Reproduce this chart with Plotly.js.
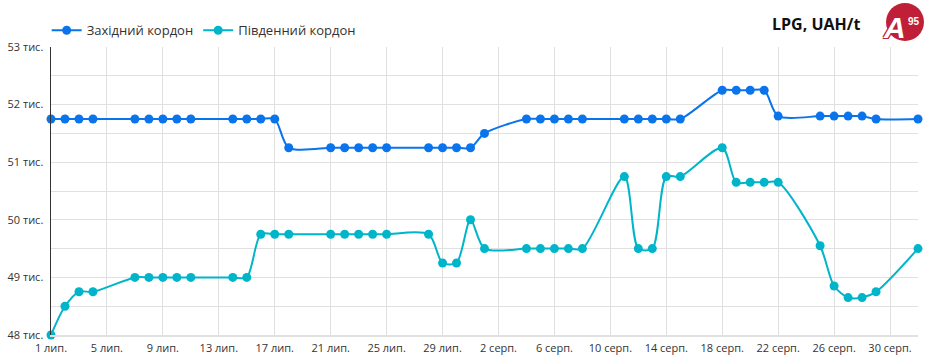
<!DOCTYPE html>
<html>
<head>
<meta charset="utf-8">
<script src="https://cdn.plot.ly/plotly-3.0.1.min.js"></script>
<style>
html,body{margin:0;padding:0;background:#fff;}
#chart{width:936px;height:362px;}
</style>
</head>
<body>
<div id="chart"></div>
<script>
const dates = [
  '2024-07-01','2024-07-02','2024-07-03','2024-07-04',
  '2024-07-07','2024-07-08','2024-07-09','2024-07-10','2024-07-11',
  '2024-07-14','2024-07-15','2024-07-16','2024-07-17','2024-07-18',
  '2024-07-21','2024-07-22','2024-07-23','2024-07-24','2024-07-25',
  '2024-07-28','2024-07-29','2024-07-30','2024-07-31','2024-08-01',
  '2024-08-04','2024-08-05','2024-08-06','2024-08-07','2024-08-08',
  '2024-08-11','2024-08-12','2024-08-13','2024-08-14','2024-08-15',
  '2024-08-18','2024-08-19','2024-08-20','2024-08-21','2024-08-22',
  '2024-08-25','2024-08-26','2024-08-27','2024-08-28','2024-08-29',
  '2024-09-01'
];
const westName = 'Західний кордон';
const westValues = [
  51750,51750,51750,51750,
  51750,51750,51750,51750,51750,
  51750,51750,51750,51750,51250,
  51250,51250,51250,51250,51250,
  51250,51250,51250,51250,51500,
  51750,51750,51750,51750,51750,
  51750,51750,51750,51750,51750,
  52250,52250,52250,52250,51800,
  51800,51800,51800,51800,51750,
  51750
];
const southName = 'Південний кордон';
const southValues = [
  48000,48500,48750,48750,
  49000,49000,49000,49000,49000,
  49000,49000,49750,49750,49750,
  49750,49750,49750,49750,49750,
  49750,49250,49250,50000,49500,
  49500,49500,49500,49500,49500,
  50750,49500,49500,50750,50750,
  51250,50650,50650,50650,50650,
  49550,48850,48650,48650,48750,
  49500
];
const xTickVals = ['2024-07-01','2024-07-05','2024-07-09','2024-07-13','2024-07-17','2024-07-21','2024-07-25','2024-07-29',
  '2024-08-02','2024-08-06','2024-08-10','2024-08-14','2024-08-18','2024-08-22','2024-08-26','2024-08-30'];
const xTickText = ['1 лип.','5 лип.','9 лип.','13 лип.','17 лип.','21 лип.','25 лип.','29 лип.',
  '2 серп.','6 серп.','10 серп.','14 серп.','18 серп.','22 серп.','26 серп.','30 серп.'];
const yTickVals = [48000,49000,50000,51000,52000,53000];
const yTickText = ['48 тис.','49 тис.','50 тис.','51 тис.','52 тис.','53 тис.'];
const chartTitle = 'LPG, UAH/t';

const westColor = '#0a74ec';
const southColor = '#00b5ca';
const fontFam = '"Open Sans", "DejaVu Sans", sans-serif';

const traces = [
  {x: dates, y: westValues, name: westName, type: 'scatter', mode: 'lines+markers',
   line: {color: westColor, width: 2, shape: 'spline', smoothing: 0.8},
   marker: {color: westColor, size: 9}, cliponaxis: false},
  {x: dates, y: southValues, name: southName, type: 'scatter', mode: 'lines+markers',
   line: {color: southColor, width: 2, shape: 'spline', smoothing: 0.8},
   marker: {color: southColor, size: 9}, cliponaxis: false}
];

const layout = {
  width: 936, height: 362,
  margin: {l: 51, r: 18, t: 47, b: 27},
  paper_bgcolor: '#fff', plot_bgcolor: '#fff',
  font: {family: fontFam, color: '#333', size: 11},
  showlegend: true,
  legend: {orientation: 'h', x: -0.005, xanchor: 'left', y: 1.058, yanchor: 'middle',
           font: {size: 13, color: '#333'}, itemwidth: 30, bgcolor: 'rgba(0,0,0,0)'},
  xaxis: {type: 'date', range: ['2024-07-01','2024-09-01'], tickmode: 'array',
          tickvals: xTickVals, ticktext: xTickText, showgrid: true, gridcolor: '#e0e0e0',
          gridwidth: 1, zeroline: false, showline: true, linecolor: '#e0e0e0', linewidth: 2,
          ticks: '', ticklabelstandoff: 2, tickfont: {size: 11, color: '#333'}, fixedrange: true},
  yaxis: {range: [48000, 53000], tickmode: 'array', tickvals: yTickVals, ticktext: yTickText,
          showgrid: true, gridcolor: '#e0e0e0', gridwidth: 1, zeroline: false,
          minor: {dtick: 500, showgrid: true, gridcolor: '#e0e0e0', gridwidth: 1},
          showline: true, linecolor: '#333', linewidth: 1.5, ticks: '', ticklabelstandoff: 4,
          tickfont: {size: 11, color: '#333'}, fixedrange: true},
  shapes: [
    {type: 'circle', xref: 'paper', yref: 'paper', xsizemode: 'pixel', ysizemode: 'pixel',
     xanchor: (905-51)/867, yanchor: (335-22)/288, x0: -19, x1: 19, y0: -19, y1: 19,
     fillcolor: '#c01f38', line: {width: 0}}
  ],
  annotations: [
    {text: '<b>' + chartTitle + '</b>', xref: 'paper', yref: 'paper', x: (862-51)/867, y: (335-24)/288,
     xanchor: 'right', yanchor: 'middle', showarrow: false, font: {size: 16, color: '#111', family: fontFam}},
    {text: '<b><i>A</i></b>', xref: 'paper', yref: 'paper', x: (894-51)/867, y: (335-28)/288,
     xanchor: 'center', yanchor: 'middle', showarrow: false, borderpad: 0,
     font: {size: 30, color: '#fff', family: '"Liberation Sans", Arial, sans-serif',
            shadow: '-1px -1px 0 #c01f38, 1px -1px 0 #c01f38, -1px 1px 0 #c01f38, 1px 1px 0 #c01f38'}},
    {text: '<b>95</b>', xref: 'paper', yref: 'paper', x: (914-51)/867, y: (335-21)/288,
     xanchor: 'center', yanchor: 'middle', showarrow: false, borderpad: 0,
     font: {size: 10, color: '#fff', family: '"Liberation Sans", Arial, sans-serif'}}
  ]
};

Plotly.newPlot('chart', traces, layout, {displayModeBar: false, staticPlot: true});
</script>
</body>
</html>
